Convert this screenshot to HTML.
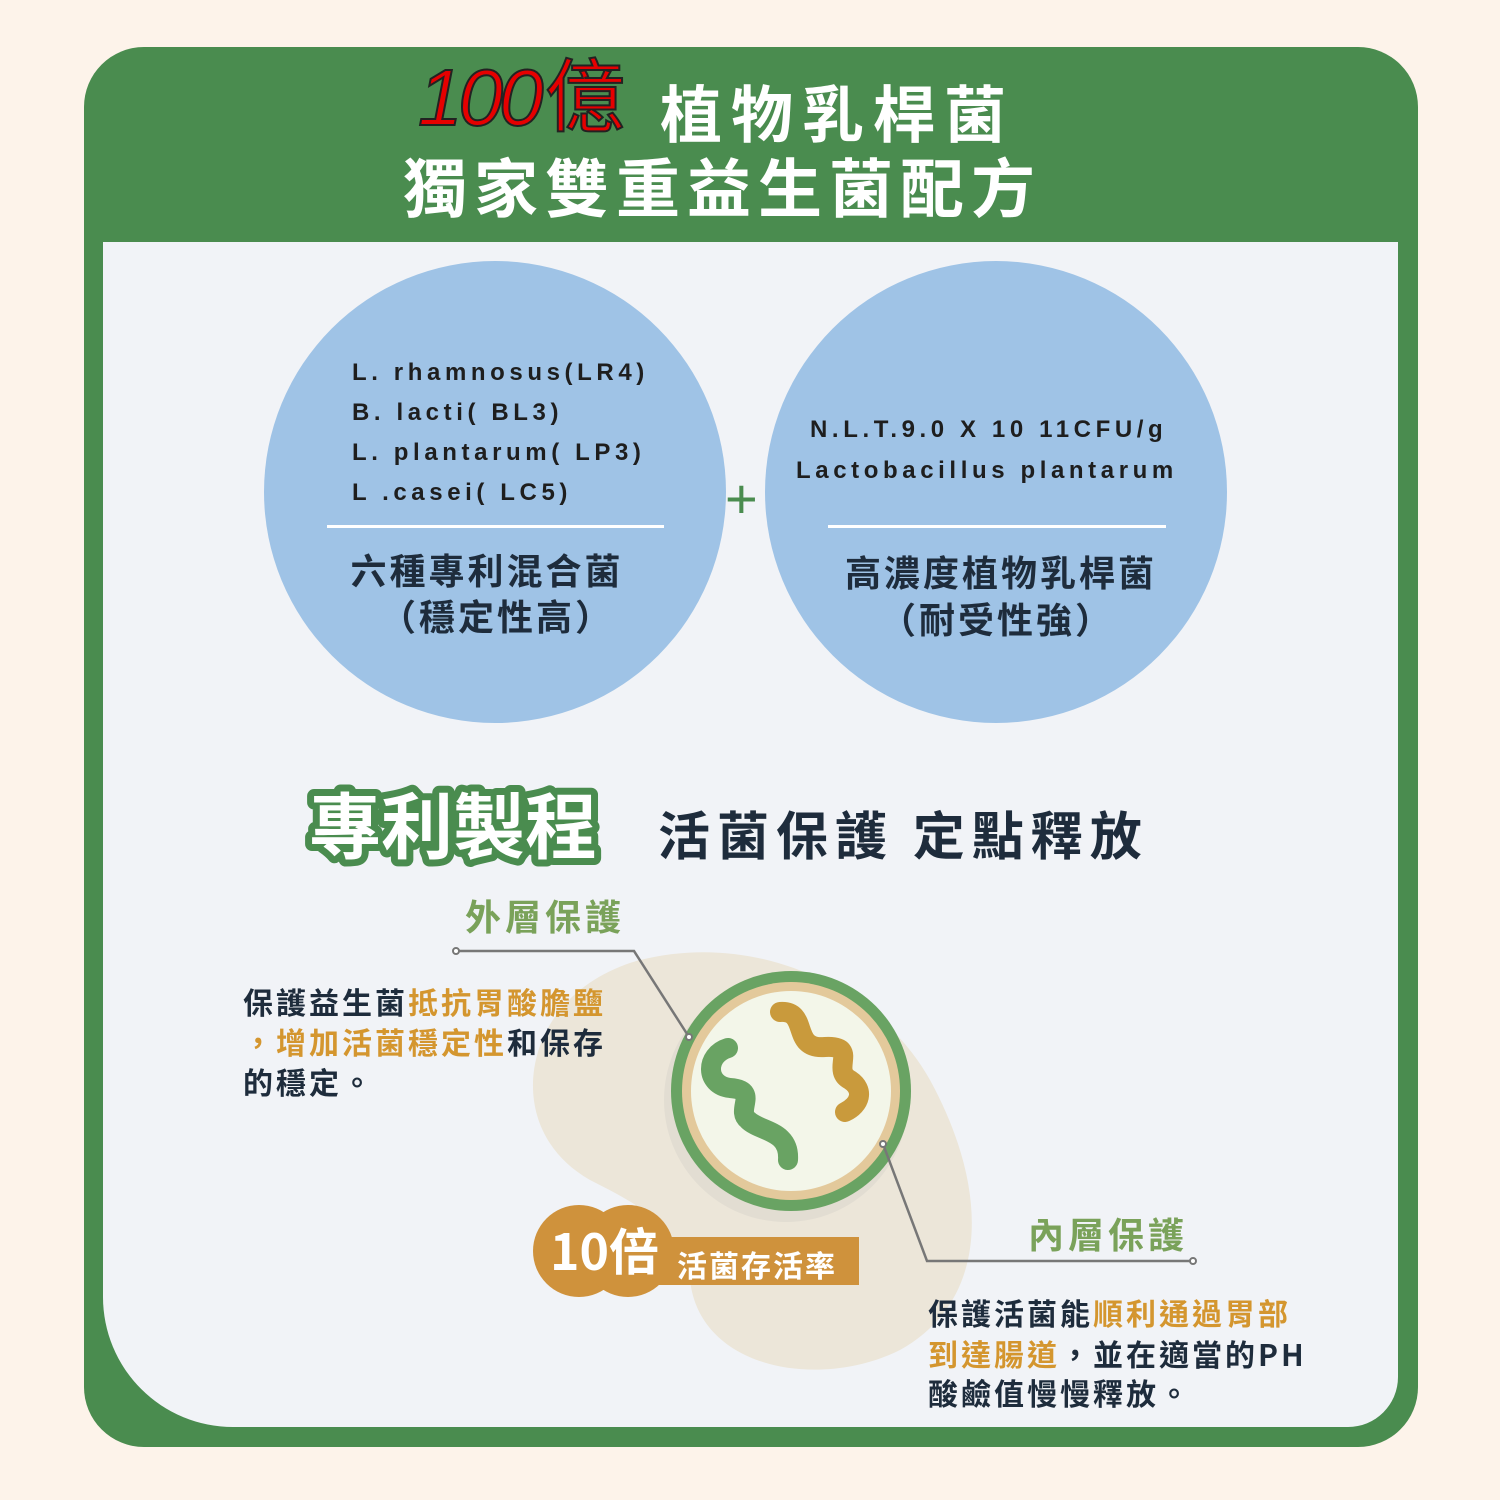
<!DOCTYPE html>
<html><head><meta charset="utf-8"><style>
*{margin:0;padding:0}
body{width:1500px;height:1500px;background:#fdf3ea;position:relative;overflow:hidden;font-family:"Liberation Sans","Noto Sans CJK TC",sans-serif}
.a{position:absolute;white-space:nowrap}
</style></head><body>
<div class="a" style="left:84px;top:47px;width:1334px;height:1400px;background:#4a8c4f;border-radius:60px"></div>
<div class="a" style="left:103px;top:242px;width:1295px;height:1185px;background:#f1f3f7;border-radius:0 0 50px 130px"></div>
<svg class="a" style="left:0;top:0" width="1500" height="1500">
 <text x="418" y="125" font-family="Liberation Sans,Noto Sans CJK TC,sans-serif" font-style="italic" font-size="80" fill="#e60000" stroke="#222" stroke-width="2" letter-spacing="-4">100</text>
 <text x="545" y="125" font-family="Noto Sans CJK TC,sans-serif" font-size="80" fill="#e60000" stroke="#222" stroke-width="2">億</text>
 <text x="660" y="137" font-family="Noto Sans CJK TC,sans-serif" font-weight="bold" font-size="62" fill="#fff" letter-spacing="9">植物乳桿菌</text>
 <text x="403" y="212" font-family="Noto Sans CJK TC,sans-serif" font-weight="bold" font-size="64" fill="#fff" letter-spacing="7">獨家雙重益生菌配方</text>
 <circle cx="495" cy="492" r="231" fill="#9fc3e6"/>
 <circle cx="996" cy="492" r="231" fill="#9fc3e6"/>
 <text x="725" y="518" font-family="Liberation Sans,sans-serif" font-size="56" fill="#4a8c4f">+</text>
 <g font-family="Liberation Sans,sans-serif" font-weight="bold" font-size="24" fill="#1e1e1e" letter-spacing="4.6">
  <text x="352" y="380">L. rhamnosus(LR4)</text>
  <text x="352" y="420">B. lacti( BL3)</text>
  <text x="352" y="460">L. plantarum( LP3)</text>
  <text x="352" y="500">L .casei( LC5)</text>
  <text x="810" y="437">N.L.T.9.0 X 10  11CFU/g</text>
  <text x="796" y="478">Lactobacillus  plantarum</text>
 </g>
 <rect x="327" y="525" width="337" height="3" fill="#fff"/>
 <rect x="828" y="525" width="338" height="3" fill="#fff"/>
 <g font-family="Noto Sans CJK TC,sans-serif" font-weight="bold" font-size="36" fill="#1e2c3c" text-anchor="middle" letter-spacing="3">
  <text x="487" y="584">六種專利混合菌</text>
  <text x="497" y="630">（穩定性高）</text>
  <text x="1001" y="586">高濃度植物乳桿菌</text>
  <text x="997" y="633">（耐受性強）</text>
 </g>
 <text x="309" y="853" font-family="Noto Sans CJK TC,sans-serif" font-weight="bold" font-size="72" fill="#fff" stroke="#4a8c4f" stroke-width="14" paint-order="stroke" stroke-linejoin="round">專利製程</text>
 <text x="658" y="855" font-family="Noto Sans CJK TC,sans-serif" font-weight="bold" font-size="52" fill="#1e2c3c" letter-spacing="7">活菌保護 定點釋放</text>
 <path d="M640 960 C760 930 880 990 930 1080 C990 1190 990 1300 900 1350 C820 1390 700 1370 690 1280 C680 1230 650 1210 590 1180 C520 1140 520 1060 560 1010 C580 985 610 968 640 960Z" fill="#ece6d9"/>
 <text x="465" y="930" font-family="Noto Sans CJK TC,sans-serif" font-weight="bold" font-size="36" fill="#7aa25a" letter-spacing="4">外層保護</text>
 <text x="1028" y="1248" font-family="Noto Sans CJK TC,sans-serif" font-weight="bold" font-size="36" fill="#7aa25a" letter-spacing="4">內層保護</text>
 <circle cx="786" cy="1100" r="122" fill="#e2ddd2"/>
 <circle cx="791" cy="1091" r="120" fill="#69a363"/>
 <circle cx="791" cy="1091" r="109" fill="#e3c99b"/>
 <circle cx="791" cy="1091" r="100" fill="#f3f6e9"/>
 <path d="M780 1012 C810 1010 790 1050 825 1047 C860 1045 830 1070 850 1080 C865 1090 860 1105 845 1112" stroke="#c99a3c" stroke-width="20" fill="none" stroke-linecap="round"/>
 <path d="M728 1048 C705 1055 705 1085 730 1088 C760 1090 735 1110 748 1120 C760 1132 790 1130 788 1160" stroke="#69a363" stroke-width="20" fill="none" stroke-linecap="round"/>
 <polyline points="456,951 634,951 689,1037" fill="none" stroke="#777" stroke-width="2.5"/>
 <polyline points="883,1144 927,1261 1193,1261" fill="none" stroke="#777" stroke-width="2.5"/>
 <g fill="#fff" stroke="#777" stroke-width="2"><circle cx="456" cy="951" r="3"/><circle cx="689" cy="1037" r="3"/><circle cx="883" cy="1144" r="3"/><circle cx="1193" cy="1261" r="3"/></g>
 <circle cx="579" cy="1251" r="46" fill="#cf923c"/>
 <circle cx="628" cy="1251" r="46" fill="#cf923c"/>
 <rect x="640" y="1237" width="219" height="48" fill="#cf923c"/>
 <text x="550" y="1270" font-family="Noto Sans CJK TC,sans-serif" font-weight="bold" font-size="50" fill="#fff">10倍</text>
 <text x="677" y="1277" font-family="Noto Sans CJK TC,sans-serif" font-weight="bold" font-size="30" fill="#fff" letter-spacing="2">活菌存活率</text>
 <g font-family="Noto Sans CJK TC,sans-serif" font-weight="bold" font-size="30" fill="#1e2c3c" letter-spacing="3">
  <text x="243" y="1014">保護益生菌<tspan fill="#d4962f">抵抗胃酸膽鹽</tspan></text>
  <text x="243" y="1054"><tspan fill="#d4962f">，增加活菌穩定性</tspan>和保存</text>
  <text x="243" y="1094">的穩定。</text>
  <text x="928" y="1325">保護活菌能<tspan fill="#d4962f">順利通過胃部</tspan></text>
  <text x="928" y="1366"><tspan fill="#d4962f">到達腸道</tspan>，並在適當的PH</text>
  <text x="928" y="1405">酸鹼值慢慢釋放。</text>
 </g>
</svg>
</body></html>
